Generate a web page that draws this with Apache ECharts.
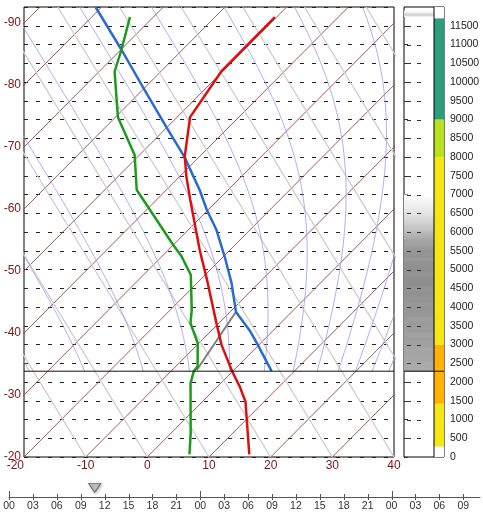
<!DOCTYPE html>
<html><head><meta charset="utf-8">
<script src="https://cdn.jsdelivr.net/npm/echarts@6/dist/echarts.min.js"></script>
<style>html,body{margin:0;padding:0;background:#fff}#c{width:483px;height:517px}</style>
</head><body><div id="c"></div>
<script>
// ---- diagram constants ----
const SKEW = 6.05;        // isotherm skew, degC per km
const DRY_LAPSE = 9.76;   // degC per km
const H_TOP = 12000;
const GROUND = 2288;      // model ground level, m

// ---- sounding data (height m, temperature degC) ----
const tempHeight = [11733, 10280, 9063, 8011, 7477, 6854, 5519, 4764, 3517, 2983, 2288, 1869, 1474, 72];
const tempValue  = [-50.3, -50.2, -47.9, -42.4, -38.9, -34.5, -24.9, -19.2, -10.0, -6.0, -0.1, 3.7, 7.0, 16.1];

const dewHeight = [11733, 10860, 10280, 9525, 9063, 8056, 7121, 6854, 5653, 5359, 4852, 3917, 3570, 3036, 2422, 2288, 1968, 633, 72];
const dewValue  = [-73.8, -69.9, -67.5, -62.6, -59.6, -50.8, -44.8, -42.1, -30.0, -26.9, -22.3, -16.5, -14.6, -10.2, -6.5, -6.3, -4.9, 3.2, 6.4];

const parcelHeight = [12000, 10860, 9792, 8804, 8003, 7121, 6587, 6053, 5332, 4638, 3864, 3383, 3036, 2288];
const parcelValue  = [-81.0, -69.9, -59.7, -50.2, -42.4, -34.6, -30.2, -25.4, -19.7, -14.4, -9.0, -3.9, -0.6, 6.3];

const mixHeight = [2315, 3845];
const mixValue  = [-6.0, -9.0];

// ---- reference lines ----
const isotherms = [-90, -80, -70, -60, -50, -40, -30, -20, -10, 0, 10, 20, 30, 40];
const dryAdiabats = [-10, 0, 10, 20, 30, 40, 50, 60, 70, 80];
const moistStart = [-33, -24, -14.5, -7.0, -0.5, 5.1, 9.8, 13.7, 17.1, 19.9, 22.6, 25.3];

// ---- right bar ----
const cloudLevels = [2288, 2500, 3000, 3500, 4000, 4500, 5000, 5500, 5750, 6000, 6250, 6500, 6750, 7000, 11750, 11800, 11900, 12000];
const cloudCover  = [0.75, 0.75, 0.8, 0.85, 0.9, 0.95, 0.95, 0.9, 0.8, 0.6, 0.4, 0.25, 0.12, 0.0, 0.0, 0.45, 0.0, 0.0];
const colorBreaks = [0, 280, 1420, 3000, 8000, 9000, 11700, 12000];
const colorFill   = ['#ffffff', '#f6e714', '#ffb200', '#f6e714', '#b8e31c', '#2e9e7a', '#ffffff'];

// ---- time axis ----
const timeTicks = [0, 3, 6, 9, 12, 15, 18, 21, 24, 27, 30, 33, 36, 39, 42, 45, 48, 51, 54, 57];
const timeMarker = 10.75;

const skewX = (t, h) => t + SKEW * h / 1000;
const FONT = 'Liberation Sans';
const MAROON = '#7a1414';

function pStd(h) { return 1013.25 * Math.pow(1 - 2.25577e-5 * h, 5.25588); }
function es(Tc) { return 6.112 * Math.exp(17.67 * Tc / (Tc + 243.5)); }
function moistLine(T0) {
  const pts = []; let T = T0; const dh = 50;
  for (let h = GROUND; h <= H_TOP + 1; h += dh) {
    pts.push([skewX(T, h), h]);
    const p = pStd(h), e = es(T), r = 0.622 * e / (p - e), TK = T + 273.15;
    const g = 9.81, L = 2.5e6, Rd = 287, Rv = 461.5, cp = 1004;
    const gam = g * (1 + L * r / (Rd * TK)) / (cp + L * L * r / (Rv * TK * TK));
    T -= gam * dh;
  }
  return pts;
}

const series = [];
isotherms.forEach(t => series.push({
  type: 'line', xAxisIndex: 0, yAxisIndex: 0, silent: true, symbol: 'none', z: 1,
  lineStyle: { color: '#a04444', width: 0.9 },
  data: [[skewX(t, 0), 0], [skewX(t, H_TOP), H_TOP]]
}));
dryAdiabats.forEach(t => series.push({
  type: 'line', xAxisIndex: 0, yAxisIndex: 0, silent: true, symbol: 'none', z: 1,
  lineStyle: { color: '#cccccc', width: 1.3 },
  data: [[t, 0], [skewX(t - DRY_LAPSE * H_TOP / 1000, H_TOP), H_TOP]]
}));
moistStart.forEach(t => series.push({
  type: 'line', xAxisIndex: 0, yAxisIndex: 0, silent: true, symbol: 'none', z: 1,
  lineStyle: { color: '#9a9af0', width: 0.8 },
  data: moistLine(t)
}));
function profile(hs, vs, color, w) {
  series.push({
    type: 'line', xAxisIndex: 0, yAxisIndex: 0, silent: true, symbol: 'none', z: 5,
    lineStyle: { color: color, width: w },
    data: hs.map((h, i) => [skewX(vs[i], h), h])
  });
}
profile(mixHeight, mixValue, '#808080', 2);
profile(parcelHeight, parcelValue, '#2a6ad8', 2.5);
profile(dewHeight, dewValue, '#1c9c1c', 2.5);
profile(tempHeight, tempValue, '#dd1010', 2.5);
// ground line
series.push({
  type: 'line', xAxisIndex: 0, yAxisIndex: 0, silent: true, symbol: 'none', z: 6,
  lineStyle: { color: '#111', width: 1 },
  data: [[-20, GROUND], [40, GROUND]]
});

// right bar: cloud shading
function grayOf(f) { const v = Math.round(255 - f * (255 - 138)); return 'rgb(' + v + ',' + v + ',' + v + ')'; }
const cloudRects = [];
for (let i = 0; i < cloudLevels.length - 1; i++) {
  const lo = cloudLevels[i], hi = cloudLevels[i + 1];
  const n = Math.max(1, Math.round((hi - lo) / 25));
  for (let k = 0; k < n; k++) {
    const a = k / n, b = (k + 1) / n;
    const f = cloudCover[i] + (cloudCover[i + 1] - cloudCover[i]) * (a + b) / 2;
    if (f > 0.005) cloudRects.push([lo + (hi - lo) * a, lo + (hi - lo) * b, f]);
  }
}
series.push({
  type: 'custom', xAxisIndex: 1, yAxisIndex: 2, silent: true, z: 1,
  data: cloudRects,
  renderItem: (params, api) => {
    const p1 = api.coord([0, api.value(1)]), p2 = api.coord([3, api.value(0)]);
    return { type: 'rect', shape: { x: p1[0], y: p1[1], width: p2[0] - p1[0], height: p2[1] - p1[1] + 0.6 },
      style: { fill: grayOf(api.value(2)) } };
  }
});
// dashes in cloud section
series.push({
  type: 'custom', xAxisIndex: 1, yAxisIndex: 2, silent: true, z: 2,
  data: Array.from({ length: 23 }, (_, i) => [(i + 1) * 500]),
  renderItem: (params, api) => {
    const p1 = api.coord([0, api.value(0)]);
    const y = Math.round(p1[1]) + 0.5;
    return { type: 'line', shape: { x1: p1[0] + 3, y1: y, x2: p1[0] + 18, y2: y },
      style: { stroke: '#333', lineWidth: 1, lineDash: [4, 6] } };
  }
});
// colour column
series.push({
  type: 'custom', xAxisIndex: 1, yAxisIndex: 2, silent: true, z: 3,
  data: colorFill.map((c, i) => [colorBreaks[i], colorBreaks[i + 1], i]),
  renderItem: (params, api) => {
    const p1 = api.coord([3, api.value(1)]), p2 = api.coord([4, api.value(0)]);
    return { type: 'rect', shape: { x: p1[0], y: p1[1], width: p2[0] - p1[0], height: p2[1] - p1[1] },
      style: { fill: colorFill[api.value(2)] } };
  }
});
series.push({
  type: 'line', xAxisIndex: 1, yAxisIndex: 2, silent: true, symbol: 'none', z: 5,
  lineStyle: { color: '#000', width: 1 }, data: [[3, 0], [3, H_TOP]]
});
series.push({
  type: 'line', xAxisIndex: 1, yAxisIndex: 2, silent: true, symbol: 'none', z: 5,
  lineStyle: { color: '#111', width: 1 }, data: [[0, GROUND], [4, GROUND]]
});
// time axis ticks
series.push({
  type: 'custom', xAxisIndex: 2, yAxisIndex: 3, silent: true, z: 3,
  data: timeTicks.map(h => [h]),
  renderItem: (params, api) => {
    const h = api.value(0); const p = api.coord([h, 0]);
    const major = h % 24 === 0;
    const x = Math.round(p[0]) + 0.5;
    return { type: 'line', shape: { x1: x, y1: p[1] - (major ? 6 : 3), x2: x, y2: p[1] + 3 },
      style: { stroke: '#555', lineWidth: 1 } };
  }
});
series.push({
  type: 'scatter', xAxisIndex: 2, yAxisIndex: 3, silent: true, z: 4,
  symbol: 'triangle', symbolRotate: 180, symbolSize: [12, 9],
  itemStyle: { color: '#c4c4c4', borderColor: '#555', borderWidth: 1, shadowBlur: 3, shadowColor: 'rgba(0,0,0,0.35)', shadowOffsetX: 1, shadowOffsetY: 1 },
  data: [[timeMarker, 0.34]]
});

const option = {
  animation: false,
  backgroundColor: '#fff',
  grid: [
    { left: 24, top: 7, width: 370, height: 450, show: true, borderColor: '#000', borderWidth: 1, backgroundColor: 'transparent' },
    { left: 404, top: 7, width: 40, height: 450, show: true, borderColor: '#000', borderWidth: 1, backgroundColor: 'transparent' },
    { left: 9, top: 470, width: 471, height: 27 }
  ],
  xAxis: [
    { gridIndex: 0, type: 'value', min: -20, max: 40, interval: 10,
      axisLine: { show: false }, axisTick: { show: false }, splitLine: { show: false },
      axisLabel: { color: MAROON, fontFamily: FONT, fontSize: 12, margin: 3, alignMinLabel: 'right' } },
    { gridIndex: 1, type: 'value', min: 0, max: 4, show: false },
    { gridIndex: 2, type: 'value', min: 0, max: 59.1, interval: 3,
      axisLine: { lineStyle: { color: '#555' } }, axisTick: { show: false }, splitLine: { show: false },
      axisLabel: { color: '#333', fontFamily: FONT, fontSize: 10.5, margin: 4, showMaxLabel: false,
        formatter: v => String(v % 24).padStart(2, '0') } }
  ],
  yAxis: [
    { gridIndex: 0, type: 'value', min: 0, max: H_TOP, interval: 500,
      axisLine: { show: false }, axisTick: { show: false }, axisLabel: { show: false },
      splitLine: { show: true, lineStyle: { color: '#222', type: [4, 8], width: 1 } } },
    { gridIndex: 0, type: 'value', min: 0, max: SKEW * H_TOP / 1000, interval: 10, position: 'left',
      axisLine: { show: false }, axisTick: { show: false }, splitLine: { show: false },
      axisLabel: { color: MAROON, fontFamily: FONT, fontSize: 12, margin: 3, showMaxLabel: false,
        formatter: v => String(-20 - v) } },
    { gridIndex: 1, type: 'value', min: 0, max: H_TOP, interval: 500, position: 'right',
      axisLine: { show: false }, axisTick: { show: true, length: 4, lineStyle: { color: '#333' } },
      splitLine: { show: false },
      axisLabel: { color: '#222', fontFamily: FONT, fontSize: 10.5, margin: 6, showMaxLabel: false,
        formatter: v => String(v) } },
    { gridIndex: 2, type: 'value', min: 0, max: 1, show: false }
  ],
  series: series
};
echarts.init(document.getElementById('c'), null, { renderer: 'canvas' }).setOption(option);
</script>
</body></html>
